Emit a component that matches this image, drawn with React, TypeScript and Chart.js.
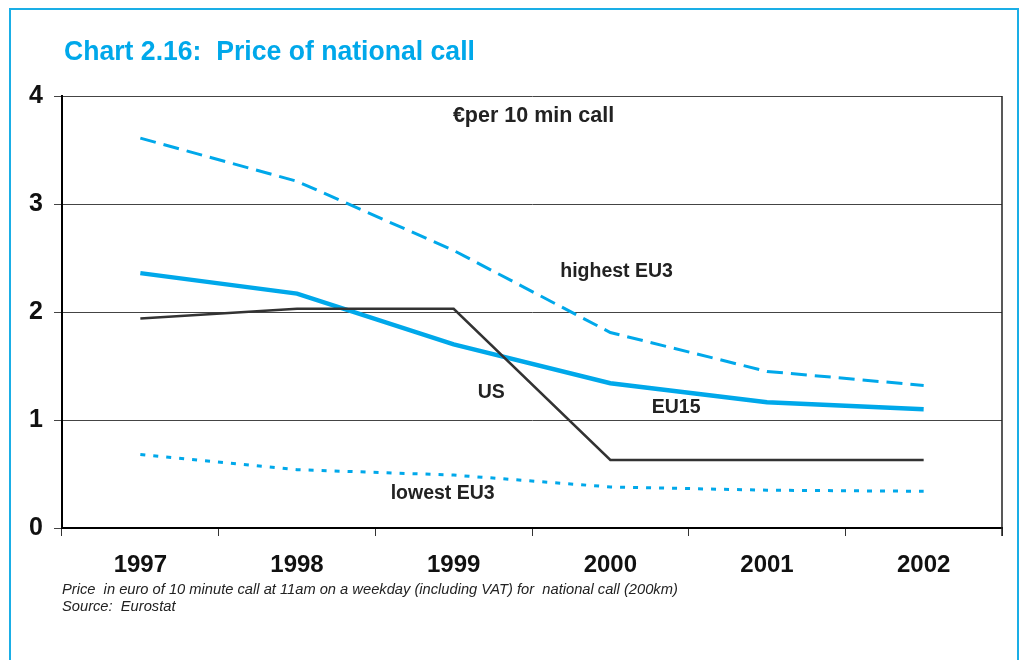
import React, { useEffect, useRef } from "react";
import { Chart, registerables } from "chart.js";

Chart.register(...registerables);

const years = ["1997", "1998", "1999", "2000", "2001", "2002"];
const highestEU3 = [3.61, 3.21, 2.57, 1.81, 1.45, 1.32];
const eu15 = [2.36, 2.17, 1.7, 1.34, 1.165, 1.1];
const us = [1.94, 2.03, 2.03, 0.63, 0.63, 0.63];
const lowestEU3 = [0.68, 0.54, 0.49, 0.38, 0.35, 0.34];
const yTicks = [0, 1, 2, 3, 4];

const titleText = "Chart 2.16:  Price of national call";
const unitText = "€per 10 min call";
const noteLines = [
  "Price  in euro of 10 minute call at 11am on a weekday (including VAT) for  national call (200km)",
  "Source:  Eurostat",
];
// label text with its anchor in data space (category index, value) and font size
const seriesLabels: { text: string; i: number; v: number; size: number }[] = [
  { text: unitText, i: 2.51, v: 3.81, size: 21.5 },
  { text: "highest EU3", i: 3.04, v: 2.37, size: 19.5 },
  { text: "US", i: 2.24, v: 1.25, size: 19.5 },
  { text: "EU15", i: 3.42, v: 1.11, size: 19.5 },
  { text: "lowest EU3", i: 1.93, v: 0.315, size: 19.5 },
];

const BLUE = "#00A8EA";
const FRAME = "#1AAEE6";
const FONT = '"Liberation Sans Narrow", "Arial Narrow", "Liberation Sans", sans-serif';

const decor = {
  id: "decor",
  beforeDraw(chart: any) {
    const ctx = chart.ctx;
    ctx.save();
    ctx.fillStyle = "#fff";
    ctx.fillRect(0, 0, chart.width, chart.height);
    ctx.strokeStyle = FRAME;
    ctx.lineWidth = 2;
    ctx.beginPath();
    ctx.moveTo(10, 680);
    ctx.lineTo(10, 9);
    ctx.lineTo(1018, 9);
    ctx.lineTo(1018, 680);
    ctx.stroke();
    // title (slightly condensed)
    ctx.fillStyle = BLUE;
    ctx.font = `bold 28px ${FONT}`;
    ctx.textAlign = "left";
    ctx.textBaseline = "middle";
    ctx.translate(64, 52);
    ctx.scale(0.95, 1);
    ctx.fillText(titleText, 0, 0);
    ctx.restore();
  },
  afterDraw(chart: any) {
    const ctx = chart.ctx;
    const ys = chart.scales.y;
    const area = chart.chartArea;
    ctx.save();
    // right border of plot
    ctx.strokeStyle = "#222";
    ctx.lineWidth = 1.5;
    ctx.beginPath();
    ctx.moveTo(area.right, area.top);
    ctx.lineTo(area.right, area.bottom + 8);
    ctx.stroke();
    // series labels
    ctx.fillStyle = "#222";
    ctx.textAlign = "center";
    ctx.textBaseline = "middle";
    const step = (area.right - area.left) / years.length;
    seriesLabels.forEach((l) => {
      ctx.font = `bold ${l.size}px ${FONT}`;
      const x = area.left + (l.i + 0.5) * step;
      const y = ys.getPixelForValue(l.v);
      ctx.fillText(l.text, x, y);
    });
    // notes
    ctx.fillStyle = "#222";
    ctx.font = `italic 14.7px ${FONT}`;
    ctx.textAlign = "left";
    noteLines.forEach((t, k) => {
      ctx.fillText(t, area.left, 590 + k * 17);
    });
    ctx.restore();
  },
};

export default function App() {
  const ref = useRef<HTMLCanvasElement>(null);
  useEffect(() => {
    if (!ref.current) return;
    const chart = new Chart(ref.current, {
      type: "line",
      data: {
        labels: years,
        datasets: [
          {
            label: "US",
            data: us,
            borderColor: "#333333",
            borderWidth: 2.5,
            pointRadius: 0,
            tension: 0,
            order: 0,
          },
          {
            label: "EU15",
            data: eu15,
            borderColor: BLUE,
            borderWidth: 4.5,
            pointRadius: 0,
            tension: 0,
            order: 1,
          },
          {
            label: "highest EU3",
            data: highestEU3,
            borderColor: BLUE,
            borderWidth: 3,
            borderDash: [16, 8],
            pointRadius: 0,
            tension: 0,
            order: 2,
          },
          {
            label: "lowest EU3",
            data: lowestEU3,
            borderColor: BLUE,
            borderWidth: 3,
            borderDash: [5, 8],
            pointRadius: 0,
            tension: 0,
            order: 3,
          },
        ],
      },
      options: {
        animation: false,
        responsive: false,
        events: [],
        layout: { padding: { left: 0, top: 96, right: 19, bottom: 0 } },
        plugins: {
          legend: { display: false },
          tooltip: { enabled: false },
          title: { display: false },
        },
        scales: {
          x: {
            type: "category",
            offset: true,
            afterFit: (s: any) => {
              s.height = 132;
            },
            grid: {
              offset: true,
              drawOnChartArea: false,
              drawTicks: true,
              tickLength: 8,
              color: "#333",
              lineWidth: 1,
            },
            border: { color: "#000", width: 2 },
            ticks: {
              color: "#111",
              padding: 15,
              font: { family: FONT, size: 24, weight: "bold" },
              maxRotation: 0,
            },
          },
          y: {
            min: 0,
            max: 4,
            afterFit: (s: any) => {
              s.width = 62;
            },
            afterBuildTicks: (s: any) => {
              s.ticks = yTicks.map((v) => ({ value: v }));
            },
            grid: {
              color: "#444",
              lineWidth: 1,
              tickLength: 8,
            },
            border: { color: "#000", width: 2 },
            ticks: {
              color: "#111",
              padding: 11,
              font: { family: FONT, size: 25, weight: "bold" },
            },
          },
        },
      },
      plugins: [decor],
    });
    return () => chart.destroy();
  }, []);
  return (
    <div style={{ position: "absolute", left: 0, top: 0, width: 1021, height: 660, background: "#fff" }}>
      <canvas ref={ref} width={1021} height={660} style={{ display: "block" }} />
    </div>
  );
}
